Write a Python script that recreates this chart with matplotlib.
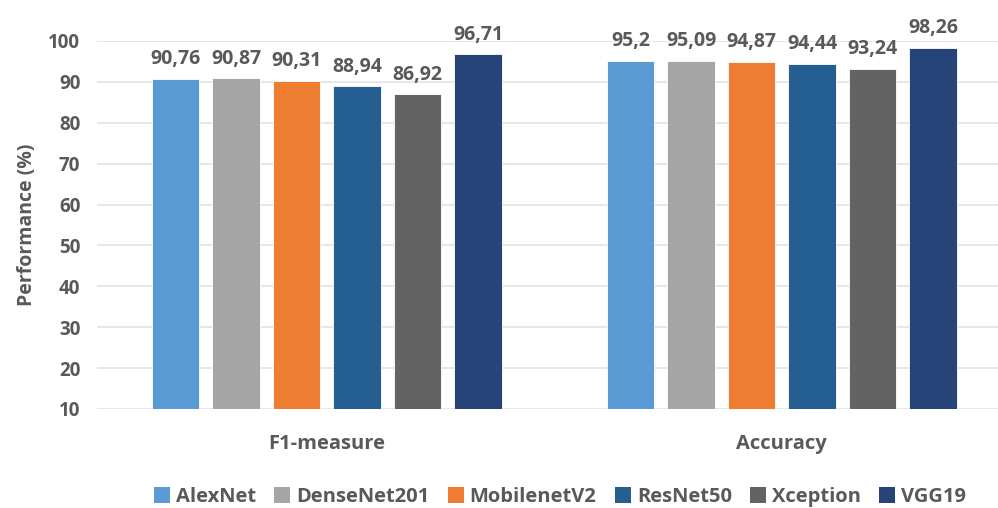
import matplotlib
matplotlib.use("Agg")
import matplotlib.pyplot as plt
from matplotlib.patches import Patch
import numpy as np

metrics = ["F1-measure", "Accuracy"]
models = ["AlexNet", "DenseNet201", "MobilenetV2", "ResNet50", "Xception", "VGG19"]
f1_values = [90.76, 90.87, 90.31, 88.94, 86.92, 96.71]
accuracy_values = [95.2, 95.09, 94.87, 94.44, 93.24, 98.26]
colors = ["#5B9BD5", "#A5A5A5", "#ED7D31", "#255E91", "#636363", "#264478"]
yticks = [10, 20, 30, 40, 50, 60, 70, 80, 90, 100]

text_color = "#595959"
plt.rcParams["font.family"] = ["Open Sans", "DejaVu Sans"]

fig = plt.figure(figsize=(9.98, 5.08), dpi=100)
ax = fig.add_axes([97 / 998, 1 - 409 / 508, 1 - 97 / 998, (409 - 41) / 508])

values = np.array([f1_values, accuracy_values])
x = np.arange(len(metrics))
step = 0.133
width = 0.104
offsets = (np.arange(len(models)) - (len(models) - 1) / 2) * step

def fmt(v):
    return f"{v:g}".replace(".", ",")

for i, (name, col) in enumerate(zip(models, colors)):
    ax.bar(x + offsets[i], values[:, i] - 10, width, bottom=10,
           color=col, edgecolor="#ffffff", linewidth=0.6, zorder=3)
    for xi, v in zip(x + offsets[i], values[:, i]):
        ax.annotate(fmt(v), (xi, v), xytext=(0, 7), textcoords="offset points",
                    ha="center", va="bottom", fontsize=14, fontweight="bold",
                    color=text_color, annotation_clip=False)

ax.set_xlim(-0.505, 1.475)
ax.set_ylim(10, 100)
ax.set_yticks(yticks)
ax.set_yticklabels([str(t) for t in yticks], fontsize=13.5, fontweight="bold", color=text_color)
ax.set_xticks(x)
ax.set_xticklabels(metrics, fontsize=14.5, fontweight="bold", color=text_color)
ax.tick_params(axis="both", length=0)
ax.tick_params(axis="x", pad=18)
ax.tick_params(axis="y", pad=12)
ax.grid(axis="y", color="#e3e3e3", linewidth=1.2, zorder=0)
for s in ax.spines.values():
    s.set_visible(False)

ax.set_ylabel("Performance (%)", fontsize=14, fontweight="bold", color=text_color, labelpad=8)

handles = [Patch(facecolor=c, edgecolor="none") for c in colors]
leg = fig.legend(handles, models, loc="center", bbox_to_anchor=(560 / 998, 1 - 497 / 508),
                 ncol=6, frameon=False, handlelength=0.8, handleheight=0.8,
                 handletextpad=0.3, columnspacing=0.9,
                 prop={"size": 14.5, "weight": "bold"})
for t in leg.get_texts():
    t.set_color(text_color)

fig.savefig("out.png", dpi=100, facecolor="white")
